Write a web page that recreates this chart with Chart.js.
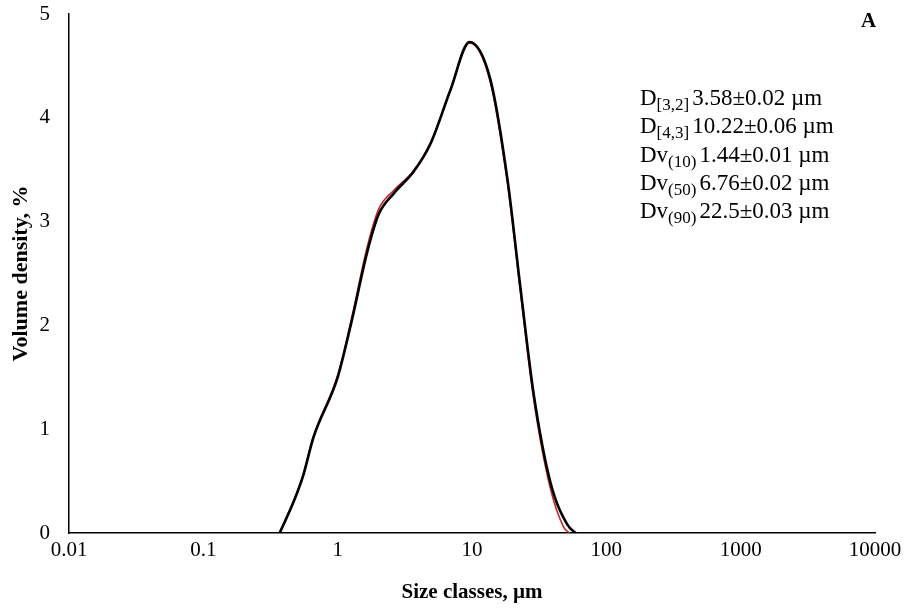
<!DOCTYPE html>
<html>
<head>
<meta charset="utf-8">
<script src="https://cdn.jsdelivr.net/npm/chart.js@4/dist/chart.umd.min.js"></script>
<style>
  html, body { margin: 0; padding: 0; background: #fff; }
  #wrap { width: 905px; height: 609px; }
</style>
</head>
<body>
<div id="wrap"><canvas id="psd"></canvas></div>
<script>
// size classes (µm) and volume density (%)
const sizesBlack = [0.37, 0.47, 0.55, 0.66, 1.0, 1.25, 1.67, 2.02, 2.61, 3.67, 4.91, 6.92, 9.58, 13.7, 18.4, 22.9, 28.7, 38.3, 51.3, 59];
const densBlack  = [0, 0.3, 0.54, 0.92, 1.5, 2.0, 2.72, 3.07, 3.27, 3.48, 3.75, 4.27, 4.73, 4.37, 3.4, 2.37, 1.35, 0.49, 0.08, 0];

const sizesRed = [0.37, 0.47, 0.55, 0.66, 1.0, 1.25, 1.67, 2.02, 2.61, 3.67, 4.91, 6.92, 9.58, 13.7, 18.4, 22.9, 28.7, 38.3, 48, 53];
const densRed  = [0, 0.31, 0.55, 0.93, 1.52, 2.03, 2.77, 3.12, 3.3, 3.49, 3.76, 4.27, 4.72, 4.34, 3.36, 2.33, 1.3, 0.43, 0.06, 0];

const xTicks = [0.01, 0.1, 1, 10, 100, 1000, 10000];
const yTicks = [0, 1, 2, 3, 4, 5];

const statLines = [
  ['D', '[3,2]', '3.58±0.02 µm'],
  ['D', '[4,3]', '10.22±0.06 µm'],
  ['Dv', '(10)', '1.44±0.01 µm'],
  ['Dv', '(50)', '6.76±0.02 µm'],
  ['Dv', '(90)', '22.5±0.03 µm']
];

const serif = '"Liberation Serif", "Times New Roman", serif';

const toPoints = (xs, ys) => xs.map((x, i) => ({ x: x, y: ys[i] }));

// stats box + panel letter
const textPlugin = {
  id: 'statText',
  afterDraw(chart) {
    const ctx = chart.ctx;
    ctx.save();
    ctx.fillStyle = '#000';
    ctx.textBaseline = 'alphabetic';
    ctx.textAlign = 'left';

    ctx.font = 'bold 21px ' + serif;
    ctx.fillText('A', 861, 27);

    let y = 105;
    statLines.forEach(line => {
      let x = 640;
      ctx.font = '23px ' + serif;
      ctx.fillText(line[0], x, y);
      x += ctx.measureText(line[0]).width;
      ctx.font = '17px ' + serif;
      ctx.fillText(line[1], x, y + 5);
      x += ctx.measureText(line[1]).width + 3;
      ctx.font = '23px ' + serif;
      ctx.fillText(line[2], x, y);
      y += 28.3;
    });
    ctx.restore();
  }
};

new Chart(document.getElementById('psd'), {
  type: 'line',
  data: {
    datasets: [
      {
        label: 'run 2',
        data: toPoints(sizesBlack, densBlack),
        borderColor: '#000',
        borderWidth: 2.6,
        pointRadius: 0,
        cubicInterpolationMode: 'monotone'
      },
      {
        label: 'run 1',
        data: toPoints(sizesRed, densRed),
        borderColor: '#c0282a',
        borderWidth: 1.6,
        pointRadius: 0,
        cubicInterpolationMode: 'monotone'
      }
    ]
  },
  options: {
    responsive: true,
    maintainAspectRatio: false,
    animation: false,
    layout: { padding: { top: 14, right: 30, left: 0, bottom: 0 } },
    plugins: {
      legend: { display: false },
      tooltip: { enabled: false }
    },
    scales: {
      x: {
        type: 'logarithmic',
        min: 0.01,
        max: 10000,
        afterBuildTicks: scale => {
          scale.ticks = xTicks.map(v => ({ value: v }));
        },
        afterFit: scale => { scale.height = 76; },
        ticks: {
          color: '#000',
          font: { family: serif, size: 21 },
          padding: -3,
          maxRotation: 0,
          autoSkip: false,
          callback: v => String(v)
        },
        grid: { display: false },
        border: { display: true, color: '#000', width: 1.5 },
        title: {
          display: true,
          text: 'Size classes, µm',
          color: '#000',
          font: { family: serif, size: 21, weight: 'bold' },
          padding: { top: 6, bottom: 4 }
        }
      },
      y: {
        min: 0,
        max: 5,
        afterBuildTicks: scale => {
          scale.ticks = yTicks.map(v => ({ value: v }));
        },
        afterFit: scale => {
          scale.width = 69;
          scale.paddingTop = 0;
          scale.paddingBottom = 0;
        },
        ticks: {
          color: '#000',
          font: { family: serif, size: 21 },
          padding: 11
        },
        grid: { display: false },
        border: { display: true, color: '#000', width: 1.5 },
        title: {
          display: true,
          text: 'Volume density, %',
          color: '#000',
          font: { family: serif, size: 22, weight: 'bold' },
          padding: { top: 8, bottom: 0 }
        }
      }
    }
  },
  plugins: [textPlugin]
});
</script>
</body>
</html>
